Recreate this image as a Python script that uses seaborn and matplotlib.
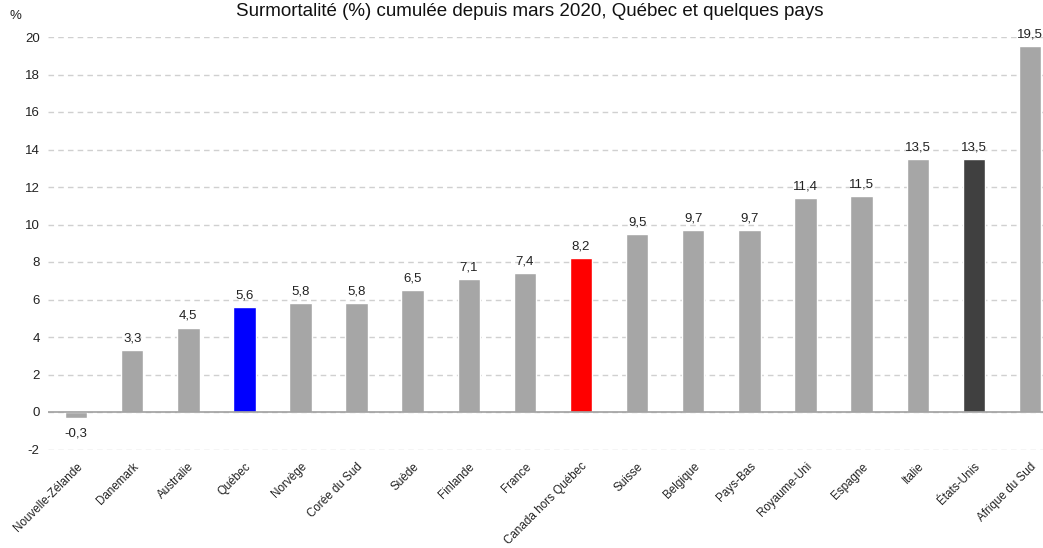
import matplotlib
matplotlib.use('Agg')
import matplotlib.pyplot as plt
import seaborn as sns
import pandas as pd

# données
pays = ['Nouvelle-Zélande', 'Danemark', 'Australie', 'Québec', 'Norvège', 'Corée du Sud',
        'Suède', 'Finlande', 'France', 'Canada hors Québec', 'Suisse', 'Belgique',
        'Pays-Bas', 'Royaume-Uni', 'Espagne', 'Italie', 'États-Unis', 'Afrique du Sud']
surmortalite = [-0.3, 3.3, 4.5, 5.6, 5.8, 5.8, 6.5, 7.1, 7.4, 8.2, 9.5, 9.7, 9.7, 11.4, 11.5, 13.5, 13.5, 19.5]
couleurs_speciales = {'Québec': '#0000ff', 'Canada hors Québec': '#ff0000', 'États-Unis': '#404040'}

sns.set_style('white')
plt.rcParams['font.family'] = ['Liberation Sans', 'DejaVu Sans']
plt.rcParams['axes.unicode_minus'] = False

df = pd.DataFrame({'pays': pays, 'valeur': surmortalite})
palette = {p: couleurs_speciales.get(p, '#a6a6a6') for p in pays}

fig = plt.figure(figsize=(10.43, 5.48), dpi=100)
ax = fig.add_axes([48 / 1043, (548 - 449.5) / 548, 1010 / 1043, 412.5 / 548])

sns.barplot(data=df, x='pays', y='valeur', hue='pays', palette=palette,
            width=0.4, legend=False, ax=ax, saturation=1)

ax.set_ylim(-2, 20)
ax.set_xlim(-0.5, 17.5)
ax.set_yticks(range(-2, 21, 2))
ax.yaxis.grid(True, linestyle=(0, (4, 3)), color='#d0d0d0', linewidth=1)
ax.set_axisbelow(True)
ax.axhline(0, color='#a0a0a0', linewidth=1.2, zorder=1)
for s in ax.spines.values():
    s.set_visible(False)
ax.tick_params(axis='both', length=0, labelsize=9.5, colors='#222222')
ax.tick_params(axis='y', pad=6)
ax.tick_params(axis='x', labelsize=8.4, pad=8)
ax.set_xlabel('')
ax.set_ylabel('')
plt.setp(ax.get_xticklabels(), rotation=45, ha='right', rotation_mode='anchor')

# étiquettes de valeur
for i, v in enumerate(surmortalite):
    txt = ('%.1f' % v).replace('.', ',')
    if v >= 0:
        ax.text(i, v + 0.3, txt, ha='center', va='bottom', fontsize=9.5, color='#222222')
    else:
        ax.text(i, v - 0.5, txt, ha='center', va='top', fontsize=9.5, color='#222222')

fig.text(15 / 1043, 1 - 16 / 548, '%', fontsize=9.5, ha='center', va='center', color='#222222')
fig.text(0.508, 1 - 12 / 548, 'Surmortalité (%) cumulée depuis mars 2020, Québec et quelques pays',
         fontsize=13.5, ha='center', va='center', color='#111111')

fig.savefig('out.png', dpi=100)
